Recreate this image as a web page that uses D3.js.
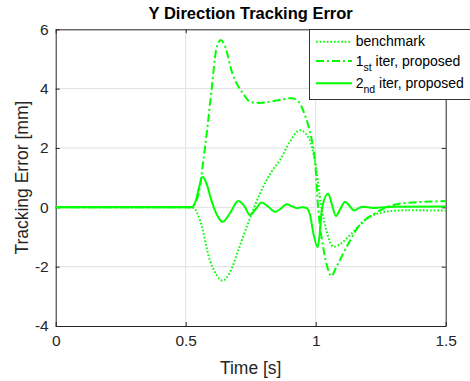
<!DOCTYPE html>
<html>
<head>
<meta charset="utf-8">
<script src="https://cdn.jsdelivr.net/npm/d3@7"></script>
<style>
  body { margin: 0; background: #fff; }
  text { font-family: "Liberation Sans", Arial, sans-serif; fill: #262626; }
</style>
</head>
<body>
<div class="chart"></div>
<script>
const width = 470
const height = 381
const margin = { top: 29.3, right: 24.3, bottom: 55, left: 55.7 }

// benchmark (dotted)
const benchT = [0, 0.5, 0.53, 0.555, 0.593, 0.62, 0.642, 0.67, 0.7, 0.735, 0.786, 0.83, 0.863, 0.9, 0.94, 0.965, 0.985, 1.0, 1.02, 1.045, 1.068, 1.1, 1.138, 1.2, 1.267, 1.35, 1.5]
const benchV = [0, 0, -0.02, -0.43, -1.78, -2.3, -2.47, -2.2, -1.5, -0.65, 0.47, 1.2, 1.6, 2.2, 2.6, 2.45, 2.04, 1.4, 0.1, -0.9, -1.33, -1.2, -0.88, -0.37, -0.15, -0.1, -0.11]

// 1st iter, proposed (dash-dot)
const iter1T = [0, 0.5, 0.52, 0.54, 0.555, 0.568, 0.574, 0.6, 0.617, 0.635, 0.65, 0.68, 0.72, 0.75, 0.786, 0.85, 0.908, 0.935, 0.951, 0.97, 0.985, 0.997, 1.01, 1.03, 1.048, 1.06, 1.08, 1.113, 1.164, 1.228, 1.33, 1.5]
const iter1V = [0, 0, 0, 0.2, 0.7, 1.6, 2.0, 4.0, 5.3, 5.64, 5.45, 4.5, 3.84, 3.55, 3.52, 3.6, 3.68, 3.55, 3.28, 2.8, 2.27, 1.6, -0.09, -1.4, -2.11, -2.32, -2.0, -1.44, -0.65, -0.2, 0.13, 0.21]

// 2nd iter, proposed (solid)
const iter2T = [0, 0.5, 0.525, 0.54, 0.552, 0.565, 0.58, 0.6, 0.62, 0.642, 0.67, 0.702, 0.725, 0.747, 0.77, 0.792, 0.818, 0.843, 0.865, 0.888, 0.91, 0.927, 0.945, 0.965, 0.978, 0.991, 1.008, 1.025, 1.048, 1.062, 1.078, 1.095, 1.113, 1.13, 1.148, 1.165, 1.183, 1.22, 1.3, 1.5]
const iter2V = [0, 0, 0.02, 0.25, 0.7, 1.03, 0.8, 0.2, -0.25, -0.49, -0.2, 0.21, 0.05, -0.26, -0.05, 0.16, 0.02, -0.15, -0.05, 0.1, 0.03, -0.03, 0.0, -0.02, -0.25, -0.88, -1.35, 0, 0.47, 0.1, -0.29, -0.05, 0.19, 0.05, -0.11, -0.03, 0.02, -0.02, 0.02, 0.03]

const xTicks = [0, 0.5, 1, 1.5]
const yTicks = [-4, -2, 0, 2, 4, 6]
const seriesNames = ['benchmark', '1st iter, proposed', '2nd iter, proposed']

const green = '#00ff00'
const dashes = ['1.6,2', '8,3,2,3', null]

const svg = d3.select('.chart')
  .append('svg')
  .attr('width', width)
  .attr('height', height)

svg.append('rect').attr('width', width).attr('height', height).attr('fill', '#fff')

const x = d3.scaleLinear().domain([0, 1.5]).range([margin.left, width - margin.right])
const y = d3.scaleLinear().domain([-4, 6]).range([height - margin.bottom, margin.top])

// grid
svg.append('g')
  .selectAll('line')
  .data(xTicks.slice(1, -1))
  .enter()
  .append('line')
  .attr('x1', d => x(d)).attr('x2', d => x(d))
  .attr('y1', y(-4)).attr('y2', y(6))
  .attr('stroke', '#e1e1e1')
svg.append('g')
  .selectAll('line')
  .data(yTicks.slice(1, -1))
  .enter()
  .append('line')
  .attr('x1', x(0)).attr('x2', x(1.5))
  .attr('y1', d => y(d)).attr('y2', d => y(d))
  .attr('stroke', '#e1e1e1')

// axes (ticks inside, box on)
const fmt = d => String(d)
const axisStyle = g => {
  g.select('.domain').attr('stroke', '#262626')
  g.selectAll('.tick line').attr('stroke', '#262626')
  g.selectAll('.tick text').attr('fill', '#262626').style('font-size', '15.5px').style('font-family', '"Liberation Sans", Arial, sans-serif')
}

svg.append('g')
  .attr('transform', `translate(0, ${y(-4)})`)
  .call(d3.axisBottom(x).tickValues(xTicks).tickFormat(fmt).tickSizeInner(-4).tickSizeOuter(0).tickPadding(9))
  .call(axisStyle)
svg.append('g')
  .attr('transform', `translate(${x(0)}, 0)`)
  .call(d3.axisLeft(y).tickValues(yTicks).tickFormat(fmt).tickSizeInner(-4).tickSizeOuter(0).tickPadding(7))
  .call(axisStyle)
svg.append('g')
  .attr('transform', `translate(0, ${y(6)})`)
  .call(d3.axisTop(x).tickValues(xTicks).tickFormat('').tickSizeInner(-4).tickSizeOuter(0))
  .call(axisStyle)
svg.append('g')
  .attr('transform', `translate(${x(1.5)}, 0)`)
  .call(d3.axisRight(y).tickValues(yTicks).tickFormat('').tickSizeInner(-4).tickSizeOuter(0))
  .call(axisStyle)

// lines
const series = [
  { t: benchT, v: benchV },
  { t: iter1T, v: iter1V },
  { t: iter2T, v: iter2V }
]
const line = d3.line()
  .x(d => x(d[0]))
  .y(d => y(d[1]))
  .curve(d3.curveMonotoneX)

series.forEach((s, i) => {
  svg.append('path')
    .datum(s.t.map((t, j) => [t, s.v[j]]))
    .attr('d', line)
    .attr('fill', 'none')
    .attr('stroke', green)
    .attr('stroke-width', 2)
    .attr('stroke-dasharray', dashes[i])
})

// title and labels
svg.append('text')
  .attr('x', (x(0) + x(1.5)) / 2)
  .attr('y', 19)
  .attr('text-anchor', 'middle')
  .style('font-size', '16.5px')
  .style('font-weight', 'bold')
  .style('fill', '#000')
  .text('Y Direction Tracking Error')

svg.append('text')
  .attr('x', (x(0) + x(1.5)) / 2)
  .attr('y', 374)
  .attr('text-anchor', 'middle')
  .style('font-size', '17.5px')
  .text('Time [s]')

svg.append('text')
  .attr('transform', `translate(28, ${(y(-4) + y(6)) / 2}) rotate(-90)`)
  .attr('text-anchor', 'middle')
  .style('font-size', '17.5px')
  .text('Tracking Error [mm]')

// legend
const legend = svg.append('g')
legend.append('rect')
  .attr('x', 309.5).attr('y', 29.5)
  .attr('width', 170).attr('height', 70)
  .attr('fill', '#fff')
  .attr('stroke', '#333')
const rowY = [41.7, 61, 83.3]
const sub = [null, ['1', 'st'], ['2', 'nd']]
seriesNames.forEach((name, i) => {
  legend.append('line')
    .attr('x1', 316).attr('x2', 352)
    .attr('y1', rowY[i]).attr('y2', rowY[i])
    .attr('stroke', green)
    .attr('stroke-width', 2)
    .attr('stroke-dasharray', dashes[i])
  const t = legend.append('text')
    .attr('x', 355.7)
    .attr('y', rowY[i] + 4.5)
    .style('font-size', '14px')
    .style('fill', '#000')
  if (sub[i]) {
    t.append('tspan').text(sub[i][0])
    t.append('tspan').attr('dy', 5.5).style('font-size', '10.5px').text(sub[i][1])
    t.append('tspan').attr('dy', -5.5).text(' iter, proposed')
  } else {
    t.text(name)
  }
})
</script>
</body>
</html>
